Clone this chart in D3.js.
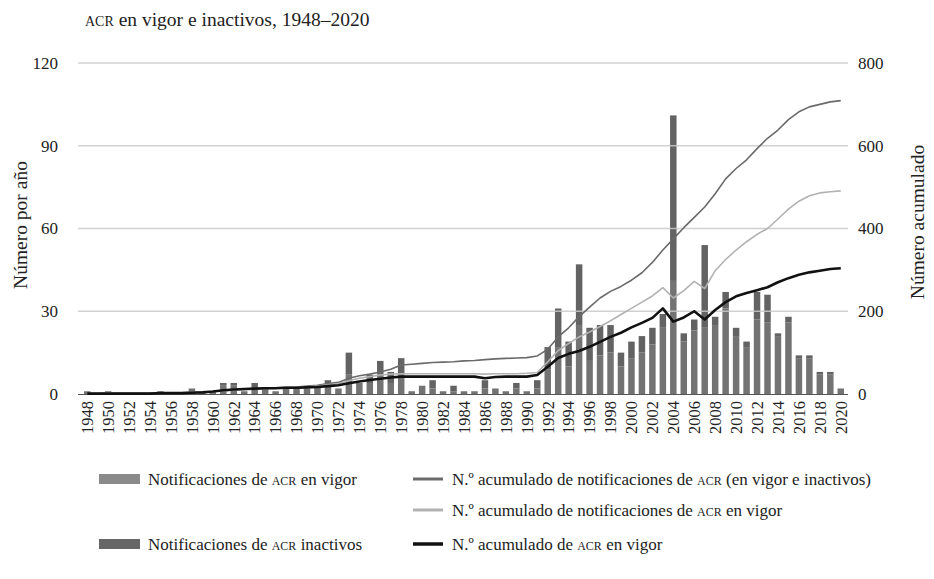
<!DOCTYPE html>
<html>
<head>
<meta charset="utf-8">
<script src="https://cdnjs.cloudflare.com/ajax/libs/d3/7.8.5/d3.min.js"></script>
<style>
  body { margin: 0; background: #fff; }
  svg text { font-family: "Liberation Serif", "DejaVu Serif", serif; fill: #222; }
  .sc { font-variant: small-caps; }
</style>
</head>
<body>
<div id="chart"></div>
<script>
// years 1948-2020
var years = d3.range(1948, 2021);

// notifications per year (left axis)
var inForce = [
  1,0,1,0,0,0,0,1,0,0, 2,1,1,3,3,1,2,2,1,2, 2,2,3,3,2,7,4,4,7,4, 7,1,3,2,1,1,1,1,2,2,
  1,2,1,2, 9,17,10,25,12,14,15,10,13,15, 18,24,41,19,23,24,25,31,21,17, 27,26,21,26,13,13,7,7,2
];
var inactive = [
  0,0,0,0,0,0,0,0,0,0, 0,0,0,1,1,0,2,0,0,0, 0,0,0,2,0,8,0,3,5,4, 6,0,0,3,0,2,0,0,3,0,
  0,2,0,3, 8,14,9,22,12,11,10,5,6,6, 6,5,60,3,4,30,3,6,3,2, 10,10,1,2,1,1,1,1,0
];

// cumulative series (right axis)
var cumTotal = [
  1,1,2,2,2,2,2,3,3,3, 4,5,6,8,10,11,13,14,15,16, 17,19,21,25,28,38,44,48,53,60,
  70,72,74,76,77,78,80,81,83,85, 86,87,88,92,108,138,160,187,210,232,
  248,260,275,293,318,348,375,402,427,452, 484,520,545,566,593,618,638,663,682,694,
  700,706,709
];
var cumInForceNotif = [
  1,1,2,2,2,2,2,3,3,3, 4,5,6,8,10,11,12,13,14,15, 16,17,19,22,25,32,38,42,46,48,
  49,49,49,49,49,49,49,49,48,49, 49,49,50,52,78,105,122,138,150,163,
  177,192,207,222,237,257,232,250,272,255, 298,325,348,368,386,400,423,447,466,479,
  486,489,491
];
var cumInForceRta = [
  1,1,1,1,1,1,1,2,2,2, 3,4,6,9,11,12,13,14,14,15, 15,16,17,19,21,26,30,34,37,40,
  42,42,42,42,42,42,42,42,38,41, 42,42,42,46,66,87,97,104,114,126,
  138,148,161,172,184,207,175,185,200,180, 203,222,236,244,251,258,270,280,288,294,
  298,302,304
];

var leftTicks = [0, 30, 60, 90, 120];
var rightTicks = [0, 200, 400, 600, 800];
var yearTicks = years.filter(function(y) { return y % 2 === 0; });

var config = {
  container: "#chart",
  width: 934,
  height: 579,
  left: 78,
  right: 848,
  top: 63,
  bottom: 394
};

var svg = d3.select(config.container)
    .append("svg")
    .attr("width", config.width)
    .attr("height", config.height);

var x = d3.scaleBand()
    .domain(years)
    .range([82, 846])
    .paddingInner(0.38)
    .paddingOuter(0.19);

var yLeft = d3.scaleLinear().domain([0, 120]).range([config.bottom, config.top]);
var yRight = d3.scaleLinear().domain([0, 800]).range([config.bottom, config.top]);

function cx(year) {
  return x(year) + x.bandwidth() / 2;
}

// title
var title = svg.append("text")
    .attr("x", 85)
    .attr("y", 26)
    .style("font-size", "19.5px");
title.append("tspan").attr("class", "sc").text("acr");
title.append("tspan").text(" en vigor e inactivos, 1948–2020");

// stacked bars
var stackData = years.map(function(y, i) {
  return { year: y, inForce: inForce[i], inactive: inactive[i] };
});
var series = d3.stack().keys(["inForce", "inactive"])(stackData);
var barColors = { inForce: "#737373", inactive: "#636363" };

svg.append("g")
  .selectAll("g")
  .data(series)
  .join("g")
    .attr("fill", function(d) { return barColors[d.key]; })
  .selectAll("rect")
  .data(function(d) { return d; })
  .join("rect")
    .attr("x", function(d) { return x(d.data.year); })
    .attr("y", function(d) { return yLeft(d[1]); })
    .attr("width", x.bandwidth())
    .attr("height", function(d) { return yLeft(d[0]) - yLeft(d[1]); });

// gridlines (drawn over the bars, as in the source)
svg.append("g")
  .selectAll("line")
  .data(leftTicks.filter(function(t) { return t > 0; }))
  .join("line")
    .attr("x1", config.left)
    .attr("x2", config.right)
    .attr("y1", function(d) { return yLeft(d); })
    .attr("y2", function(d) { return yLeft(d); })
    .attr("stroke", "#c9c9c9")
    .attr("stroke-opacity", 0.85)
    .attr("stroke-width", 1.6);

// zero line
svg.append("line")
    .attr("x1", config.left)
    .attr("x2", config.right)
    .attr("y1", yLeft(0) + 0.5)
    .attr("y2", yLeft(0) + 0.5)
    .attr("stroke", "#555")
    .attr("stroke-width", 1.2);

// cumulative lines
var lineDefs = [
  { values: cumTotal, color: "#6a6a6a", width: 1.6 },
  { values: cumInForceNotif, color: "#b2b2b2", width: 1.6 },
  { values: cumInForceRta, color: "#111111", width: 2.6 }
];
var line = d3.line()
    .x(function(d, i) { return cx(years[i]); })
    .y(function(d) { return yRight(d); });

svg.append("g")
  .selectAll("path")
  .data(lineDefs)
  .join("path")
    .attr("fill", "none")
    .attr("stroke", function(d) { return d.color; })
    .attr("stroke-width", function(d) { return d.width; })
    .attr("stroke-linejoin", "round")
    .attr("d", function(d) { return line(d.values); });

// left axis labels
svg.append("g")
  .selectAll("text")
  .data(leftTicks)
  .join("text")
    .attr("x", 58)
    .attr("y", function(d) { return yLeft(d); })
    .attr("dy", "0.35em")
    .attr("text-anchor", "end")
    .style("font-size", "17px")
    .text(function(d) { return d; });

// right axis labels
svg.append("g")
  .selectAll("text")
  .data(rightTicks)
  .join("text")
    .attr("x", 858)
    .attr("y", function(d) { return yRight(d); })
    .attr("dy", "0.35em")
    .attr("text-anchor", "start")
    .style("font-size", "17px")
    .text(function(d) { return d; });

// x labels
svg.append("g")
  .selectAll("text")
  .data(yearTicks)
  .join("text")
    .attr("transform", function(d) { return "translate(" + cx(d) + "," + (config.bottom + 7) + ") rotate(-90)"; })
    .attr("dy", "0.35em")
    .attr("text-anchor", "end")
    .style("font-size", "16.5px")
    .text(function(d) { return d; });

// axis titles
svg.append("text")
    .attr("transform", "translate(20,225) rotate(-90)")
    .attr("text-anchor", "middle")
    .attr("dy", "0.35em")
    .style("font-size", "19.5px")
    .text("Número por año");

svg.append("text")
    .attr("transform", "translate(917,222) rotate(-90)")
    .attr("text-anchor", "middle")
    .attr("dy", "0.35em")
    .style("font-size", "19.5px")
    .text("Número acumulado");

// legend
var legend = svg.append("g");

function legendText(g, xPos, yPos, parts) {
  var t = g.append("text")
      .attr("x", xPos)
      .attr("y", yPos)
      .attr("dy", "0.35em")
      .style("font-size", "17px");
  parts.forEach(function(p) {
    t.append("tspan").attr("class", p.sc ? "sc" : null).text(p.text);
  });
}

var barLegend = [
  { y: 479, color: "#8a8a8a", parts: [{ text: "Notificaciones de " }, { text: "acr", sc: true }, { text: " en vigor" }] },
  { y: 544, color: "#666666", parts: [{ text: "Notificaciones de " }, { text: "acr", sc: true }, { text: " inactivos" }] }
];
barLegend.forEach(function(d) {
  legend.append("rect")
      .attr("x", 99)
      .attr("y", d.y - 5)
      .attr("width", 41)
      .attr("height", 10)
      .attr("fill", d.color);
  legendText(legend, 148, d.y, d.parts);
});

var lineLegend = [
  { y: 479, color: "#6a6a6a", width: 3, parts: [{ text: "N.º acumulado de notificaciones de " }, { text: "acr", sc: true }, { text: " (en vigor e inactivos)" }] },
  { y: 510, color: "#b2b2b2", width: 3, parts: [{ text: "N.º acumulado de notificaciones de " }, { text: "acr", sc: true }, { text: " en vigor" }] },
  { y: 544, color: "#111111", width: 3.5, parts: [{ text: "N.º acumulado de " }, { text: "acr", sc: true }, { text: " en vigor" }] }
];
lineLegend.forEach(function(d) {
  legend.append("line")
      .attr("x1", 413)
      .attr("x2", 443)
      .attr("y1", d.y)
      .attr("y2", d.y)
      .attr("stroke", d.color)
      .attr("stroke-width", d.width);
  legendText(legend, 452, d.y, d.parts);
});
</script>
</body>
</html>
